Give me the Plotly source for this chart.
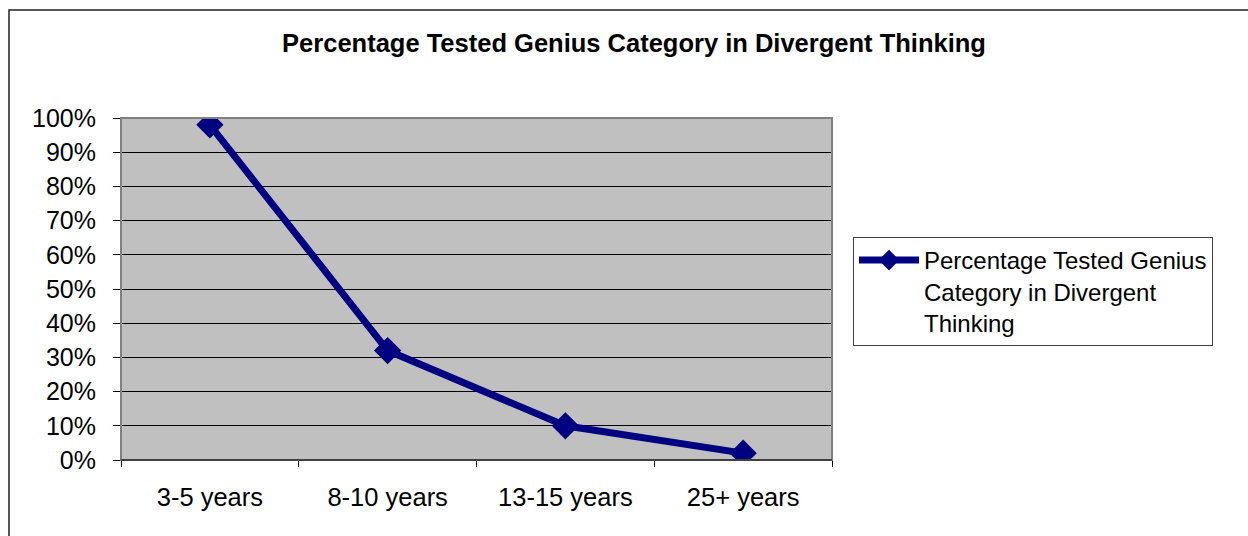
import plotly.graph_objects as go

categories = ["3-5 years", "8-10 years", "13-15 years", "25+ years"]
values = [0.98, 0.32, 0.10, 0.02]
series_name = "Percentage Tested Genius<br>Category in Divergent<br>Thinking"
title_text = "Percentage Tested Genius Category in Divergent Thinking"
y_ticks = [i / 10 for i in range(11)]
y_labels = [f"{i*10}%" for i in range(11)]

FONT = "Arial, Liberation Sans, sans-serif"
NAVY = "#000080"

fig = go.Figure()
fig.add_trace(go.Scatter(
    x=categories, y=values, name=series_name, mode="lines+markers",
    line=dict(color=NAVY, width=7),
    marker=dict(symbol="diamond", size=21, color=NAVY),
    showlegend=True,
))

fig.update_layout(
    width=1248, height=536,
    margin=dict(l=121, r=416, t=118, b=76),
    paper_bgcolor="white", plot_bgcolor="#C0C0C0",
    font=dict(family=FONT, size=25, color="black"),
    title=dict(text=title_text, x=634/1248, xref="container", xanchor="center",
               y=1-43/536, yref="container", yanchor="middle",
               font=dict(family=FONT, size=25.5, color="black", weight="bold")),
    xaxis=dict(type="category", range=[-0.5, 3.5], tickson="boundaries",
               ticks="outside", ticklen=6, tickcolor="black", tickwidth=1,
               showline=True, linecolor="black", linewidth=1,
               showgrid=False, zeroline=False, ticklabelstandoff=14,
               tickfont=dict(family=FONT, size=25.5, color="black")),
    yaxis=dict(range=[0, 1], tickvals=y_ticks, ticktext=y_labels,
               ticks="outside", ticklen=7, tickcolor="black", tickwidth=1,
               showgrid=True, gridcolor="black", gridwidth=1,
               showline=False, zeroline=False, ticklabelstandoff=12,
               tickfont=dict(family=FONT, size=25, color="black")),
    legend=dict(x=(853-121)/711, y=(460-237)/342, xanchor="left", yanchor="top",
                xref="paper", yref="paper",
                bordercolor="#404040", borderwidth=1, bgcolor="white",
                itemwidth=60, valign="top", entrywidth=400, entrywidthmode="pixels",
                font=dict(family=FONT, size=24, color="black")),
    shapes=[
        dict(type="rect", xref="paper", yref="paper", x0=0, x1=1, y0=0, y1=1,
             line=dict(color="#808080", width=2), layer="above"),
        dict(type="line", xref="paper", yref="paper", x0=0, x1=1, y0=0, y1=0,
             line=dict(color="black", width=1), layer="above"),
        dict(type="rect", xref="paper", yref="paper",
             x0=(9-121)/711, x1=(1270-121)/711, y0=(460-560)/342, y1=(460-10)/342,
             line=dict(color="#222222", width=1.5), layer="above"),
    ],
)

fig.write_html("out.html", config={"displayModeBar": False},
               post_script="document.body.style.margin='0';")
